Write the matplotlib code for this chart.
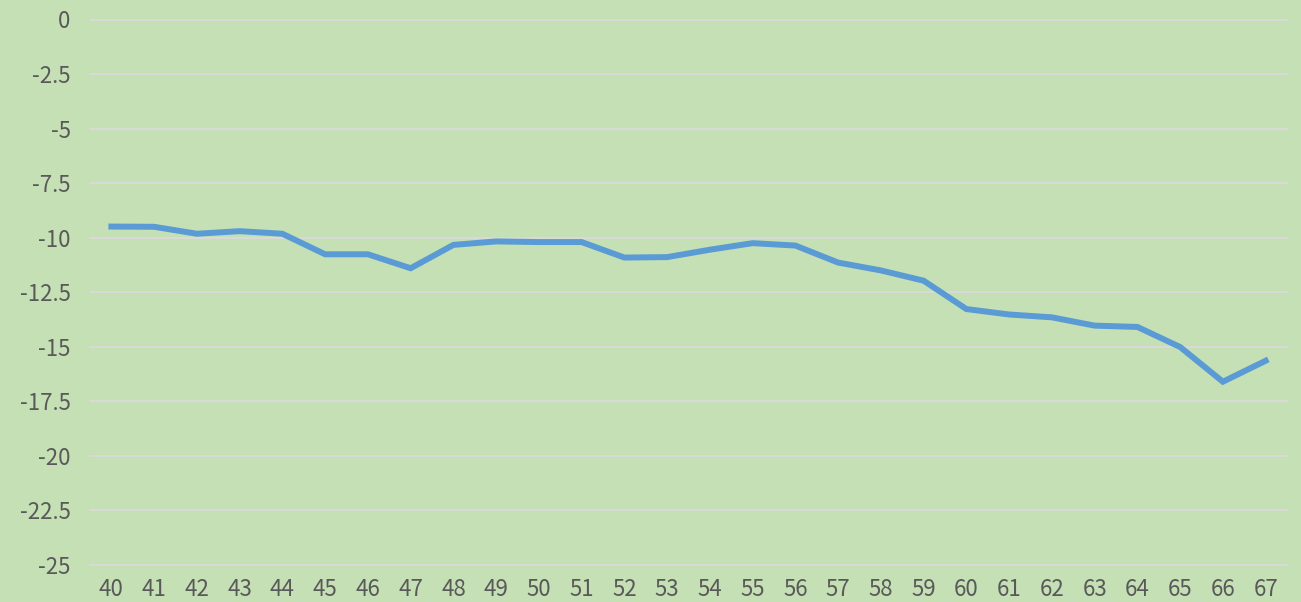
import matplotlib.pyplot as plt

# x categories and values
ages = list(range(40, 68))
values = [-9.49, -9.50, -9.82, -9.70, -9.82, -10.76, -10.76, -11.40, -10.33, -10.17,
          -10.20, -10.20, -10.91, -10.89, -10.55, -10.25, -10.36, -11.14, -11.50, -11.97,
          -13.27, -13.52, -13.65, -14.03, -14.09, -15.01, -16.60, -15.64]
yticks = [0, -2.5, -5, -7.5, -10, -12.5, -15, -17.5, -20, -22.5, -25]
ytick_labels = ['0', '-2.5', '-5', '-7.5', '-10', '-12.5', '-15', '-17.5', '-20', '-22.5', '-25']

bg = '#C5E0B4'
plt.rcParams['font.family'] = ['Noto Sans CJK SC', 'DejaVu Sans']

fig = plt.figure(figsize=(13.01, 6.02), dpi=100)
fig.patch.set_facecolor(bg)
ax = fig.add_axes([90 / 1301, 1 - 565 / 602, 1197 / 1301, (565 - 19.5) / 602])
ax.set_facecolor(bg)

ax.plot(ages, values, color='#5B9BD5', linewidth=4.3, solid_joinstyle='miter', zorder=3)

ax.set_xlim(39.5, 67.5)
ax.set_ylim(-25, 0)
ax.set_yticks(yticks)
ax.set_yticklabels(ytick_labels)
ax.set_xticks(ages)
ax.set_xticklabels([str(a) for a in ages])

ax.grid(axis='y', color='#D9D9D9', linewidth=1.5, zorder=1)
ax.set_axisbelow(True)
for s in ax.spines.values():
    s.set_visible(False)
ax.tick_params(axis='both', length=0, labelsize=16, colors='#595959')
ax.tick_params(axis='y', pad=14)
ax.tick_params(axis='x', pad=9)
for lbl in ax.get_xticklabels() + ax.get_yticklabels():
    lbl.set_fontweight('light')
for gl in ax.get_ygridlines():
    gl.set_clip_on(False)

fig.savefig('out.png', dpi=100, facecolor=bg)
